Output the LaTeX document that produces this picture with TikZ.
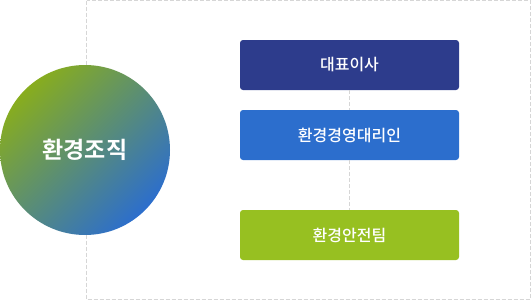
\documentclass[tikz,border=0pt]{standalone}
\usepackage{fontspec}
\setmainfont{Noto Sans CJK KR}[BoldFont={Noto Sans CJK KR Bold}]
\newfontfamily\krmedium{Noto Sans CJK KR Medium}
\definecolor{navy}{HTML}{2D3C8C}
\definecolor{midblue}{HTML}{2C6ECD}
\definecolor{leafgreen}{HTML}{97C021}
\definecolor{framegray}{HTML}{D6D6D6}
\begin{document}
\begin{tikzpicture}[x=1pt, y=-1pt,
  orgbox/.style={rounded corners=3pt, minimum width=219pt, minimum height=50pt,
    text=white, font=\krmedium\fontsize{16}{18}\selectfont, inner sep=0pt},
  link/.style={framegray, dash pattern=on 4pt off 2pt, line width=0.8pt}]
\useasboundingbox (0,0) rectangle (531,300);
% frame
\draw[link] (86.5,0.5) rectangle (530.3,299.3);
% boxes
\node[orgbox, fill=navy] (ceo) at (349.5,65) {대표이사};
\node[orgbox, fill=midblue] (rep) at (349.5,135) {환경경영대리인};
\node[orgbox, fill=leafgreen] (team) at (349.5,235) {환경안전팀};
% connector
\draw[link] (ceo) -- (rep);
\draw[link] (rep) -- (team);
% the circle
\node[circle, minimum size=170pt, inner sep=0pt, top color=leafgreen!90!black,
  bottom color=midblue, shading angle=45, text=white,
  font=\bfseries\fontsize{23}{26}\selectfont] (org) at (85,150) {환경조직};
\end{tikzpicture}
\end{document}
